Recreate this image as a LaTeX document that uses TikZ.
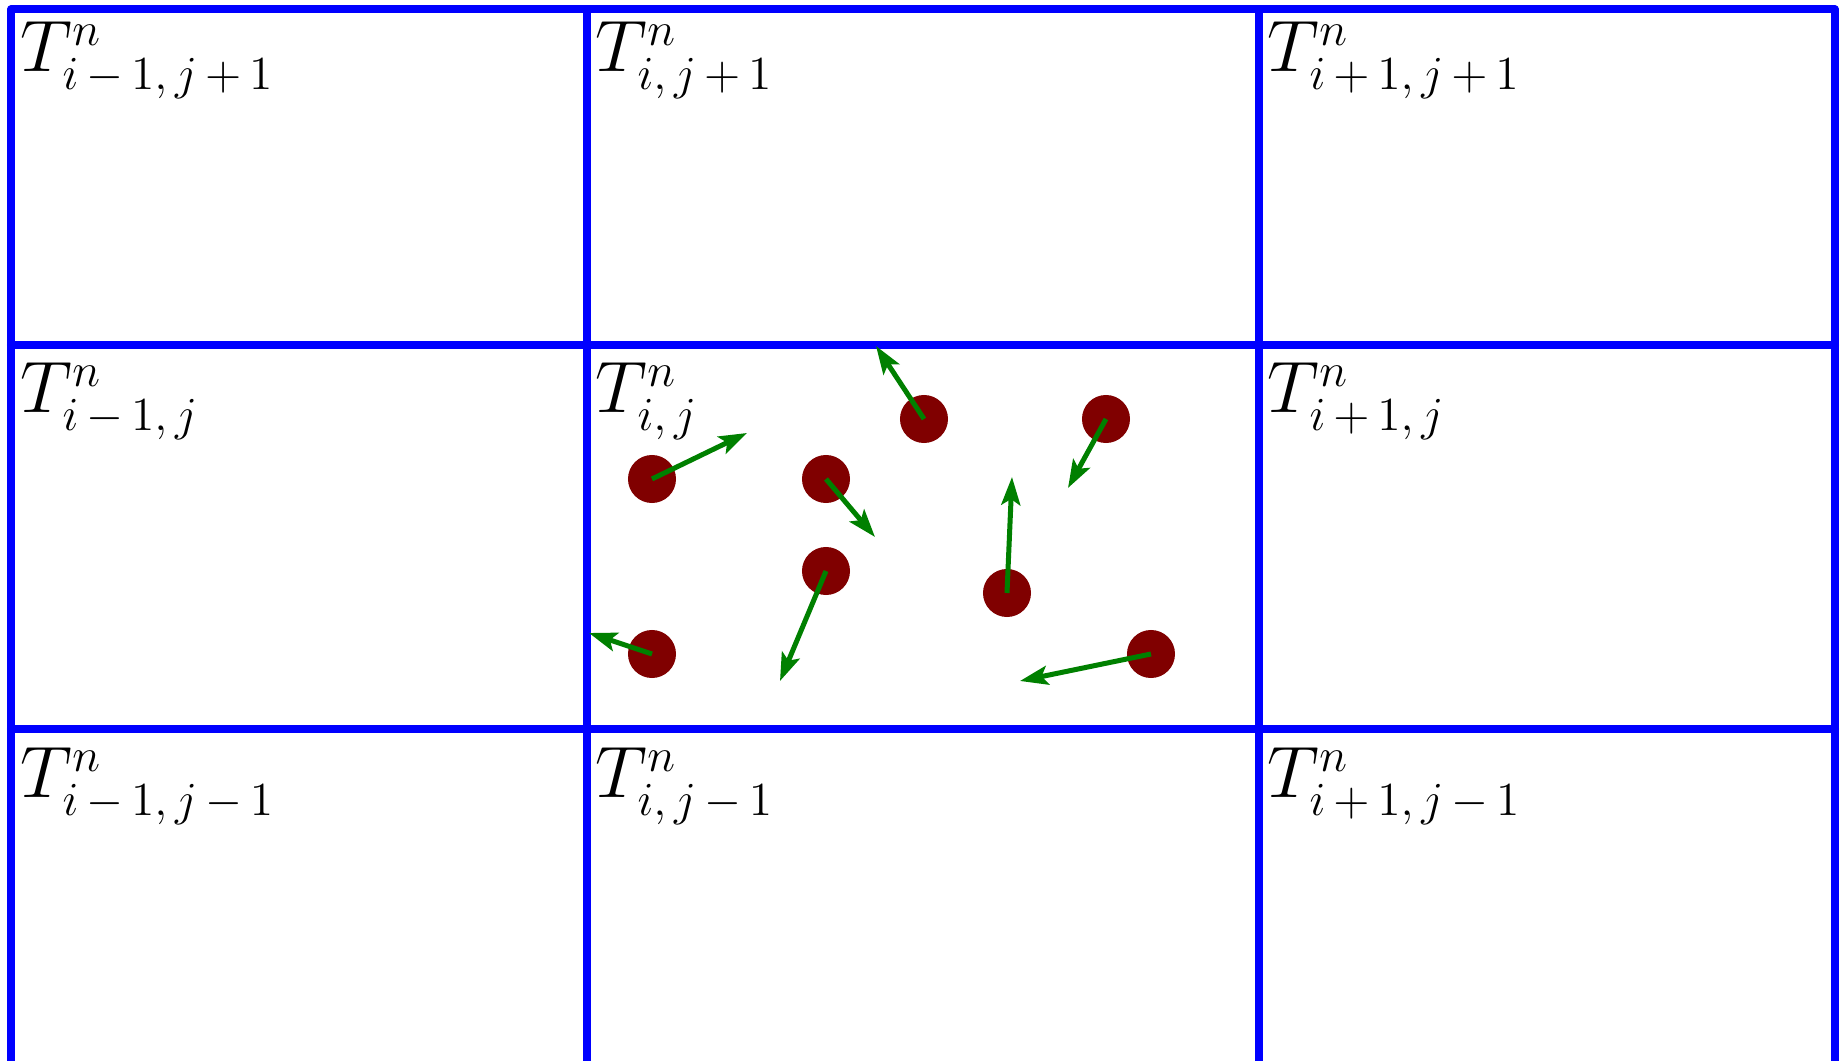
\RequirePackage{fix-cm}
\documentclass[tikz,border=0pt]{standalone}
\usetikzlibrary{arrows.meta}
\DeclareMathSizes{20.74}{20.74}{13.5}{10}

\begin{document}
\begin{tikzpicture}[x = 0.01cm, y = -0.01cm,
		gridline/.style = {blue, line width = 0.08cm, line join = round, line cap = round},
		particle/.style = {circle, fill = red!50!black, minimum size = 0.48cm, inner sep = 0pt},
		velocity/.style = {green!50!black, line width = 0.05cm, -{Stealth[length = 0.28cm, width = 0.19cm, inset = 0.06cm]}},
		cell/.style = {anchor = north west, inner sep = 0pt, font = \huge}]
		\clip (0,0) rectangle (1841,1061);
		% grid
		\draw[gridline] (11,1100) -- (11,9.5) -- (1835,9.5) -- (1835,1100);
		\draw[gridline] (587,9.5) -- (587,1100);
		\draw[gridline] (1259,9.5) -- (1259,1100);
		\draw[gridline] (11,345) -- (1835,345);
		\draw[gridline] (11,729) -- (1835,729);
		% cell values
		\node[cell] (tnw) at (20,21) {$T^n_{i\,-\,1,\,j\,+\,1}$};
		\node[cell] (tn) at (595,21) {$T^n_{i,\,j\,+\,1}$};
		\node[cell] (tne) at (1267,21) {$T^n_{i\,+\,1,\,j\,+\,1}$};
		\node[cell] (tw) at (20,362) {$T^n_{i\,-\,1,\,j}$};
		\node[cell] (tc) at (595,362) {$T^n_{i,\,j}$};
		\node[cell] (te) at (1267,362) {$T^n_{i\,+\,1,\,j}$};
		\node[cell] (tsw) at (20,747) {$T^n_{i\,-\,1,\,j\,-\,1}$};
		\node[cell] (ts) at (595,747) {$T^n_{i,\,j\,-\,1}$};
		\node[cell] (tse) at (1267,747) {$T^n_{i\,+\,1,\,j\,-\,1}$};
		% particles and their velocities
		\foreach \k/\px/\py/\vx/\vy in {1/652/479/747/433, 2/826/479/875/537, 3/924/419/876/346, 4/1106/419/1068/488,
			5/826/571/780/681, 6/1007/593/1012/477, 7/652/654/589/633, 8/1151/654/1020/681} {
			\node[particle] (p\k) at (\px,\py) {};
			\coordinate (v\k) at (\vx,\vy);
			\draw[velocity] (p\k.center) -- (v\k);
		}
	\end{tikzpicture}
\end{document}
